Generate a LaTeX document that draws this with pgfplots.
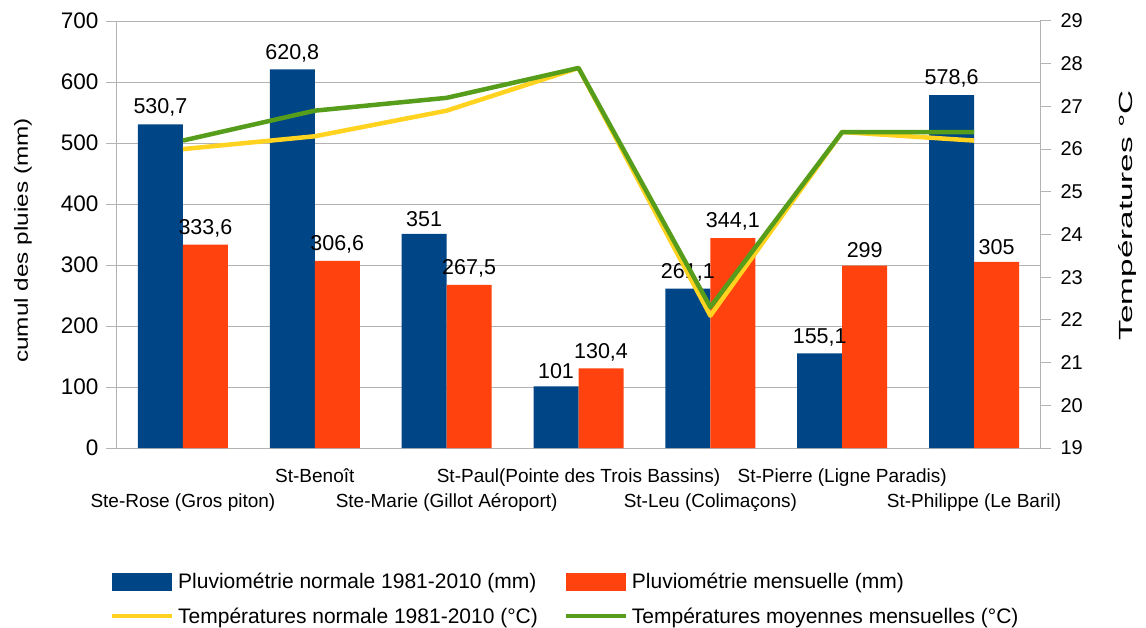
\documentclass[border=0pt]{standalone}
\usepackage{fontspec}
\setmainfont{Liberation Sans}
\usepackage{graphicx}
\usepackage{pgfplots}
\pgfplotsset{compat=1.18}
\definecolor{cblue}{HTML}{004586}
\definecolor{corange}{HTML}{FF420E}
\definecolor{cyellow}{HTML}{FFD320}
\definecolor{cgreen}{HTML}{579D1C}
\definecolor{cgrid}{HTML}{B3B3B3}
\newcommand{\fs}{\fontsize{19}{23}\selectfont}
\newcommand{\fl}{\fontsize{21}{25}\selectfont}
\pgfplotsset{/pgf/number format/.cd, assume math mode=true, use comma, 1000 sep={}}
\begin{document}
\begin{tikzpicture}[x=1pt,y=1pt]
\path[use as bounding box] (0,0) rectangle (1146,-628);
\begin{axis}[
 at={(117pt,-448pt)}, anchor=south west,
 scale only axis, width=923pt, height=427pt,
 xmin=-0.5, xmax=6.5, ymin=0, ymax=700,
 ytick={0,100,...,700},
 ymajorgrids, grid style={cgrid, line width=1pt},
 axis line style={cgrid, line width=1pt},
 axis x line*=bottom, axis y line*=left,
 tick align=outside,
 major tick length=11pt, minor tick length=10pt,
 y tick style={cgrid, line width=1pt},
 xtick={0,...,6}, x tick style={draw=none},
 minor xtick={-0.5,0.5,...,6.5},
 minor x tick style={cgrid, line width=1pt},
 xticklabels={{\strut\\Ste-Rose (Gros piton)},{St-Benoît\\\strut},{\strut\\Ste-Marie (Gillot Aéroport)},{St-Paul(Pointe des Trois Bassins)\\\strut},{\strut\\St-Leu (Colimaçons)},{St-Pierre (Ligne Paradis)\\\strut},{\strut\\St-Philippe (Le Baril)}},
 xticklabel style={align=center, font=\fs, yshift=-6pt},
 yticklabel style={font=\fontsize{22.5}{26}\selectfont, xshift=-4pt},
 ylabel={\scalebox{1.28}[1]{cumul des pluies (mm)}},
 ylabel style={at={(axis description cs:-0.102,0.486)}, anchor=center, font=\fs},
 ybar=0pt, bar width=45pt,
 nodes near coords,
 nodes near coords style={font=\fontsize{21.5}{25}\selectfont, black, yshift=4pt},
 legend cell align=left,
 legend style={draw=none, fill=none, inner sep=0pt, font=\fl,
   at={(axis description cs:-0.0076,-0.283)}, anchor=north west,
   legend columns=2, row sep=10pt,
   /tikz/every even column/.append style={column sep=22pt},
   nodes={inner sep=4pt}},
]
\addplot[fill=cblue, draw=none, legend image code/.code={\fill[cblue] (0pt,-9pt) rectangle (60pt,9pt);}] coordinates {(0,530.7) (1,620.8) (2,351) (3,101) (4,261.1) (5,155.1) (6,578.6)};
\addlegendentry{Pluviométrie normale 1981-2010 (mm)}
\addplot[fill=corange, draw=none, legend image code/.code={\fill[corange] (0pt,-9pt) rectangle (60pt,9pt);}] coordinates {(0,333.6) (1,306.6) (2,267.5) (3,130.4) (4,344.1) (5,299) (6,305)};
\addlegendentry{Pluviométrie mensuelle (mm)}
\addlegendimage{legend image code/.code={\draw[cyellow, line width=4pt] (0pt,0pt) -- (60pt,0pt);}}
\addlegendentry{Températures normale 1981-2010 (°C)}
\addlegendimage{legend image code/.code={\draw[cgreen, line width=4pt] (0pt,0pt) -- (60pt,0pt);}}
\addlegendentry{Températures moyennes mensuelles (°C)}
\end{axis}
\begin{axis}[
 at={(117pt,-448pt)}, anchor=south west,
 scale only axis, width=923pt, height=427pt,
 xmin=-0.5, xmax=6.5, ymin=19, ymax=29,
 ytick={19,...,29},
 axis x line=none, axis y line*=right,
 axis line style={cgrid, line width=1pt},
 tick align=outside, major tick length=11pt,
 y tick style={cgrid, line width=1pt},
 yticklabel style={font=\fontsize{20}{24}\selectfont, xshift=6pt},
 ylabel={\scalebox{1.75}[1]{Températures °C}},
 ylabel style={at={(axis description cs:1.0953,0.545)}, anchor=center, font=\fs},
]
\addplot[cyellow, line width=4.5pt, line join=round] coordinates {(0,26.0) (1,26.3) (2,26.9) (3,27.9) (4,22.1) (5,26.4) (6,26.2)};
\addplot[cgreen, line width=4.5pt, line join=round] coordinates {(0,26.2) (1,26.9) (2,27.2) (3,27.9) (4,22.3) (5,26.4) (6,26.4)};
\end{axis}
\end{tikzpicture}
\end{document}
